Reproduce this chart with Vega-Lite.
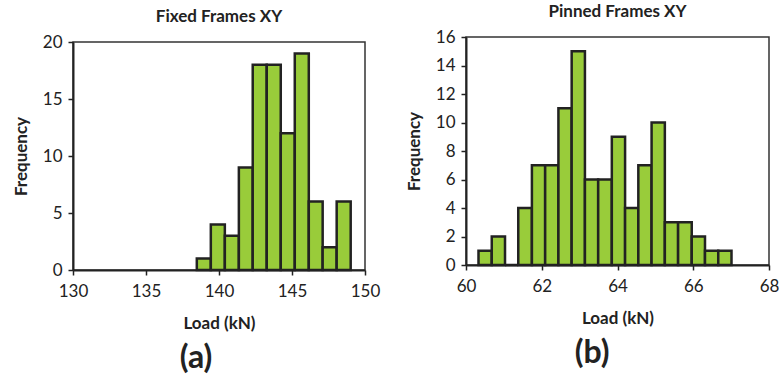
{
  "$schema": "https://vega.github.io/schema/vega-lite/v6.json",
  "padding": {"left": 11, "top": 2, "right": 2, "bottom": 2},
  "background": "white",
  "spacing": 23,
  "datasets": {
    "fixed": [
      {"bin_start": 138.48, "bin_end": 139.44, "count": 1},
      {"bin_start": 139.44, "bin_end": 140.40, "count": 4},
      {"bin_start": 140.40, "bin_end": 141.36, "count": 3},
      {"bin_start": 141.36, "bin_end": 142.31, "count": 9},
      {"bin_start": 142.31, "bin_end": 143.27, "count": 18},
      {"bin_start": 143.27, "bin_end": 144.23, "count": 18},
      {"bin_start": 144.23, "bin_end": 145.19, "count": 12},
      {"bin_start": 145.19, "bin_end": 146.15, "count": 19},
      {"bin_start": 146.15, "bin_end": 147.10, "count": 6},
      {"bin_start": 147.10, "bin_end": 148.06, "count": 2},
      {"bin_start": 148.06, "bin_end": 149.02, "count": 6}
    ],
    "pinned": [
      {"bin_start": 60.33, "bin_end": 60.68, "count": 1},
      {"bin_start": 60.68, "bin_end": 61.03, "count": 2},
      {"bin_start": 61.03, "bin_end": 61.38, "count": 0},
      {"bin_start": 61.38, "bin_end": 61.74, "count": 4},
      {"bin_start": 61.74, "bin_end": 62.09, "count": 7},
      {"bin_start": 62.09, "bin_end": 62.44, "count": 7},
      {"bin_start": 62.44, "bin_end": 62.79, "count": 11},
      {"bin_start": 62.79, "bin_end": 63.14, "count": 15},
      {"bin_start": 63.14, "bin_end": 63.49, "count": 6},
      {"bin_start": 63.49, "bin_end": 63.85, "count": 6},
      {"bin_start": 63.85, "bin_end": 64.20, "count": 9},
      {"bin_start": 64.20, "bin_end": 64.55, "count": 4},
      {"bin_start": 64.55, "bin_end": 64.90, "count": 7},
      {"bin_start": 64.90, "bin_end": 65.25, "count": 10},
      {"bin_start": 65.25, "bin_end": 65.60, "count": 3},
      {"bin_start": 65.60, "bin_end": 65.96, "count": 3},
      {"bin_start": 65.96, "bin_end": 66.31, "count": 2},
      {"bin_start": 66.31, "bin_end": 66.66, "count": 1},
      {"bin_start": 66.66, "bin_end": 67.01, "count": 1}
    ]
  },
  "config": {
    "font": "Lato",
    "view": {"stroke": "#333333", "strokeWidth": 1.5},
    "concat": {"spacing": 0},
    "axis": {
      "grid": false,
      "labelFlush": false,
      "domainColor": "#222222",
      "domainWidth": 2,
      "tickColor": "#222222",
      "tickWidth": 1.5,
      "tickSize": 5,
      "labelFont": "Lato",
      "labelFontSize": 17,
      "labelColor": "#222222",
      "labelPadding": 6,
      "titleFont": "Lato",
      "titleFontSize": 17,
      "titleFontWeight": "bold",
      "titleColor": "#222222"
    },
    "axisX": {"labelPadding": 8, "titlePadding": 16},
    "axisY": {"titlePadding": 12},
    "title": {"font": "Lato", "fontWeight": "bold", "color": "#222222", "anchor": "middle"}
  },
  "hconcat": [
    {
      "title": {"text": "(a)", "orient": "bottom", "anchor": "middle", "fontSize": 32, "offset": 11},
      "bounds": "flush",
      "spacing": 0,
      "vconcat": [
        {
          "description": "blank strip above the left panel",
          "width": 292,
          "height": 5,
          "view": {"stroke": null},
          "data": {"values": [{}]},
          "mark": {"type": "rule", "opacity": 0},
          "encoding": {}
        },
        {
          "title": {"text": "Fixed Frames XY", "fontSize": 17, "offset": 7},
          "width": 292,
          "height": 228,
          "data": {"name": "fixed"},
          "mark": {"type": "rect", "fill": "#99CC3A", "stroke": "#222222", "strokeWidth": 2.5},
          "encoding": {
            "x": {
              "field": "bin_start", "type": "quantitative",
              "scale": {"domain": [130, 150], "nice": false, "zero": false},
              "axis": {"values": [130, 135, 140, 145, 150], "title": "Load (kN)"}
            },
            "x2": {"field": "bin_end"},
            "y": {
              "field": "count", "type": "quantitative",
              "scale": {"domain": [0, 20], "nice": false},
              "axis": {"values": [0, 5, 10, 15, 20], "title": "Frequency"}
            }
          }
        }
      ]
    },
    {
      "title": {"text": "(b)", "orient": "bottom", "anchor": "middle", "fontSize": 32, "offset": 11},
      "vconcat": [
        {
          "title": {"text": "Pinned Frames XY", "fontSize": 17, "offset": 7},
          "width": 303,
          "height": 228,
          "data": {"name": "pinned"},
          "mark": {"type": "rect", "fill": "#99CC3A", "stroke": "#222222", "strokeWidth": 2.5},
          "encoding": {
            "x": {
              "field": "bin_start", "type": "quantitative",
              "scale": {"domain": [60, 68], "nice": false, "zero": false},
              "axis": {"values": [60, 62, 64, 66, 68], "title": "Load (kN)"}
            },
            "x2": {"field": "bin_end"},
            "y": {
              "field": "count", "type": "quantitative",
              "scale": {"domain": [0, 16], "nice": false},
              "axis": {"values": [0, 2, 4, 6, 8, 10, 12, 14, 16], "title": "Frequency"}
            }
          }
        }
      ]
    }
  ]
}
